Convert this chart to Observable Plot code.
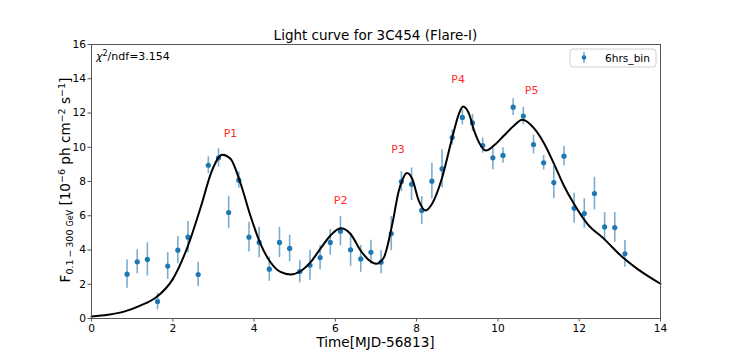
<!DOCTYPE html>
<html><head><meta charset="utf-8">
<script src="https://cdn.jsdelivr.net/npm/d3@7"></script>
<script src="https://cdn.jsdelivr.net/npm/@observablehq/plot@0.6"></script>
<style>body{margin:0;background:#fff} svg{display:block}</style>
</head><body><div id="chart"></div>
<script>
// ---- data ----
const times = [0.875,1.125,1.375,1.625,1.875,2.125,2.375,2.625,2.875,3.125,3.375,3.625,3.875,4.125,4.375,4.625,4.875,5.125,5.375,5.625,5.875,6.125,6.375,6.625,6.875,7.125,7.375,7.625,7.875,8.125,8.375,8.625,8.875,9.125,9.375,9.625,9.875,10.125,10.375,10.625,10.875,11.125,11.375,11.625,11.875,12.125,12.375,12.625,12.875,13.125];
const flux = [2.59,3.31,3.45,0.99,3.06,3.99,4.75,2.57,8.95,9.38,6.19,8.08,4.75,4.44,2.88,4.44,4.09,2.74,3.11,3.56,4.44,5.10,4.01,3.48,3.87,3.29,4.96,8.00,7.84,6.31,8.02,8.74,10.57,11.74,11.42,10.10,9.38,9.52,12.34,11.82,10.16,9.09,7.94,9.48,6.44,6.13,7.30,5.35,5.31,3.78];
const fluxErr = [0.82,0.70,0.97,0.49,0.78,0.80,0.91,0.71,0.49,0.53,0.95,0.48,0.87,0.89,0.71,0.88,0.78,0.66,0.88,0.71,0.75,0.86,0.96,0.78,0.70,0.68,1.00,0.58,0.95,0.81,1.04,1.11,0.44,0.44,0.49,0.44,0.70,0.45,0.49,0.51,0.54,0.42,0.94,0.58,0.88,0.86,0.95,0.83,0.87,0.78];
const fitTimes = [0,0.4,0.8,1.2,1.6,2.0,2.35,2.7,2.95,3.22,3.42,3.67,3.91,4.15,4.4,4.65,4.9,5.14,5.39,5.63,5.88,6.13,6.37,6.62,6.87,7.0,7.19,7.4,7.56,7.65,7.76,7.89,8.05,8.22,8.38,8.63,8.88,9.04,9.14,9.29,9.41,9.53,9.7,9.9,10.15,10.4,10.6,10.89,11.13,11.38,11.62,11.87,12.2,12.61,13.02,13.43,14.0];
const fitFlux = [0.12,0.22,0.40,0.75,1.25,2.3,4.1,6.6,8.55,9.56,9.33,7.87,6.0,4.4,3.3,2.72,2.57,2.76,3.29,4.07,4.85,5.27,4.95,3.97,3.33,3.19,3.55,5.5,7.45,8.1,8.49,8.16,6.9,6.31,6.7,8.25,10.6,11.95,12.38,11.95,11.0,10.3,9.81,10.1,10.69,11.27,11.6,11.1,10.25,9.03,7.77,6.7,5.53,4.65,3.68,2.9,2.03];
const peakLabels = ["P1","P2","P3","P4","P5"];
const peakT = [3.42,6.13,7.54,9.02,10.83];
const peakF = [10.82,6.89,9.85,13.94,13.31];
const xTicks = [0,2,4,6,8,10,12,14];
const yTicks = [0,2,4,6,8,10,12,14,16];
const titleText = "Light curve for 3C454 (Flare-I)";
const xLabelText = "Time[MJD-56813]";
const chiValue = "3.154";
const legendLabel = "6hrs_bin";

const points = times.map((t, i) => ({t, f: flux[i], e: fluxErr[i]}));
const fit = fitTimes.map((t, i) => ({t, f: fitFlux[i]}));
const peaks = peakLabels.map((l, i) => ({l, t: peakT[i], f: peakF[i]}));

const blue = "#1f77b4";
const FONT = "'DejaVu Sans', sans-serif";

const plot = Plot.plot({
  width: 734, height: 360,
  marginLeft: 91, marginRight: 74, marginTop: 44, marginBottom: 42,
  style: {fontFamily: FONT, fontSize: "10.6px", background: "#fff", color: "#000", overflow: "visible"},
  x: {domain: [0, 14]},
  y: {domain: [0, 16]},
  marks: [
    Plot.ruleX(points, {x: "t", y1: d => d.f - d.e, y2: d => d.f + d.e, stroke: blue, strokeOpacity: 0.6, strokeWidth: 1.6}),
    Plot.dot(points, {x: "t", y: "f", r: 2.6, fill: blue, stroke: "none"}),
    Plot.line(fit, {x: "t", y: "f", stroke: "#000", strokeWidth: 2, curve: "monotone-x"}),
    Plot.text(peaks, {x: "t", y: "f", text: "l", fill: "#ff2b2b", fontSize: 11, fontFamily: FONT}),
    Plot.frame({stroke: "#555", strokeWidth: 1}),
    Plot.axisX({ticks: xTicks, tickSize: 3.5, tickPadding: 2, label: null, tickFormat: d => d, stroke: "#555"}),
    Plot.axisY({ticks: yTicks, tickSize: 3.5, tickPadding: 2, label: null, tickFormat: d => d, stroke: "#555"})
  ]
});

const svg = d3.select(plot);

// title
svg.append("text").attr("x", 375.5).attr("y", 40).attr("text-anchor", "middle")
  .style("font-family", FONT).style("font-size", "13.5px").attr("fill", "#000").text(titleText);

// x label
svg.append("text").attr("x", 375.5).attr("y", 347).attr("text-anchor", "middle")
  .style("font-family", FONT).style("font-size", "13.6px").attr("fill", "#000").text(xLabelText);

// y label with sub/superscripts
const yl = svg.append("text").attr("transform", "translate(70,180) rotate(-90)")
  .attr("text-anchor", "middle").style("font-family", FONT).style("font-size", "13.6px").attr("fill", "#000");
yl.append("tspan").text("F");
yl.append("tspan").attr("dy", 3).style("font-size", "9.5px").text("0.1\u2009\u2212\u2009300 ");
yl.append("tspan").style("font-size", "8px").text("GeV");
yl.append("tspan").attr("dy", -3).text(" [10");
yl.append("tspan").attr("dy", -5).style("font-size", "9.5px").text("\u22126");
yl.append("tspan").attr("dy", 5).text(" ph cm");
yl.append("tspan").attr("dy", -5).style("font-size", "9.5px").text("\u22122");
yl.append("tspan").attr("dy", 5).text(" s");
yl.append("tspan").attr("dy", -5).style("font-size", "9.5px").text("\u22121");
yl.append("tspan").attr("dy", 5).text("]");

// chi^2 / ndf
const chi = svg.append("text").attr("x", 96).attr("y", 60).attr("text-anchor", "start")
  .style("font-family", FONT).style("font-size", "11px").attr("fill", "#000");
chi.append("tspan").style("font-style", "italic").text("\u03c7");
chi.append("tspan").attr("dy", -4).style("font-size", "8px").text("2");
chi.append("tspan").attr("dy", 4).text("/ndf=" + chiValue);

// legend
const lg = svg.append("g");
lg.append("rect").attr("x", 570).attr("y", 49).attr("width", 86).attr("height", 18).attr("rx", 3)
  .attr("fill", "#fff").attr("stroke", "#d0d0d0").attr("stroke-width", 1);
lg.append("line").attr("x1", 584).attr("x2", 584).attr("y1", 52).attr("y2", 63)
  .attr("stroke", blue).attr("stroke-opacity", 0.6).attr("stroke-width", 1.6);
lg.append("circle").attr("cx", 584).attr("cy", 57.5).attr("r", 2.3).attr("fill", blue);
lg.append("text").attr("x", 605).attr("y", 61.5).attr("text-anchor", "start")
  .style("font-family", FONT).style("font-size", "10.6px")
  .attr("fill", "#000").text(legendLabel);

document.getElementById("chart").append(plot);
</script>
</body></html>
